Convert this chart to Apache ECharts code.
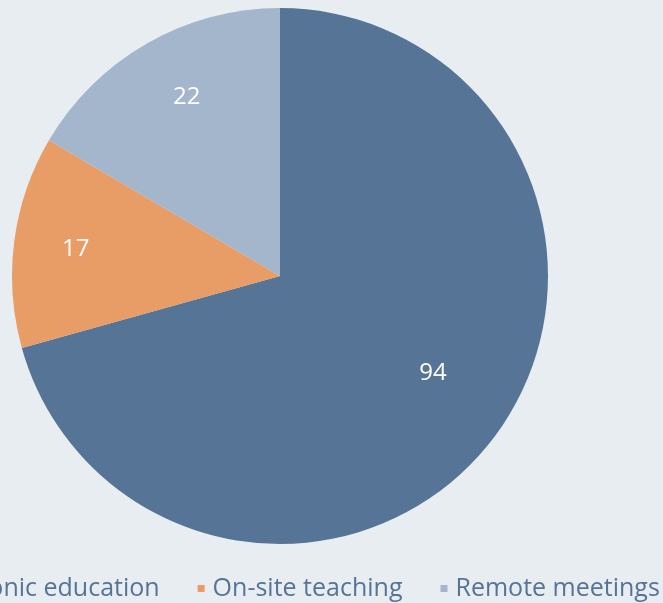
<!DOCTYPE html>
<html>
<head>
<meta charset="utf-8">
<script src="https://cdn.jsdelivr.net/npm/echarts@6/dist/echarts.min.js"></script>
<style>
  html, body { margin: 0; padding: 0; background: #e8edf2; }
  #main { width: 663px; height: 603px; }
</style>
</head>
<body>
<div id="main"></div>
<script>
var categories = ['Electronic education', 'On-site teaching', 'Remote meetings'];
var values = [94, 17, 22];
var colors = ['#557496', '#e89c66', '#a4b6cb'];

var myChart = echarts.init(document.getElementById('main'));

var pieData = [];
var labelData = [];
for (var i = 0; i < categories.length; i++) {
  pieData.push({ name: categories[i], value: values[i], itemStyle: { color: colors[i] } });
  var item = { name: categories[i], value: values[i] };
  if (i == 0) {
    item.label = { offset: [-11, -27] };  // big slice label sits a bit closer to centre
  }
  if (i == 2) {
    item.label = { offset: [9, 0] };
  }
  labelData.push(item);
}

var font = 'Open Sans';

var option = {
  backgroundColor: '#e8edf2',
  animation: false,
  legend: {
    data: categories,
    left: -97,
    top: 571,
    width: 1000,   // keep all items on one line, overflowing both sides
    icon: 'rect',
    itemWidth: 7,
    itemHeight: 7,
    itemGap: 38,
    textStyle: {
      color: '#557496',
      fontSize: 25,
      fontFamily: font,
      padding: [0, 0, 0, 3]
    }
  },
  series: [
    {
      name: 'main',
      type: 'pie',
      center: [280, 276],
      radius: [0, 268],
      startAngle: 90,
      clockwise: true,
      label: { show: false },
      labelLine: { show: false },
      data: pieData
    },
    {
      // transparent ring only used to place the value labels
      name: 'labels',
      type: 'pie',
      silent: true,
      center: [280, 276],
      radius: [138, 268],
      startAngle: 90,
      clockwise: true,
      legendHoverLink: false,
      itemStyle: { color: 'rgba(0,0,0,0)' },
      label: {
        show: true,
        position: 'inside',
        formatter: '{c}',
        color: '#ffffff',
        fontSize: 24,
        fontFamily: font
      },
      labelLine: { show: false },
      data: labelData
    }
  ]
};

myChart.setOption(option);
</script>
</body>
</html>
